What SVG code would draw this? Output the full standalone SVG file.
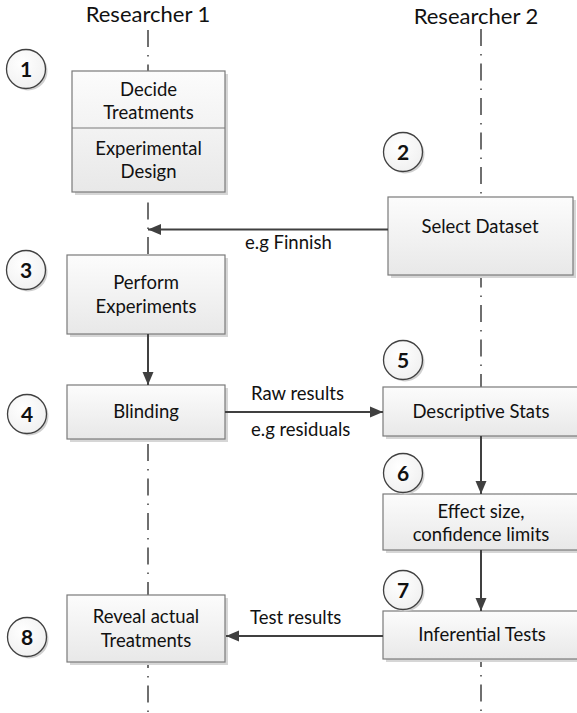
<svg xmlns="http://www.w3.org/2000/svg" width="577" height="713" viewBox="0 0 577 713">
<defs>
<linearGradient id="boxg" x1="0" y1="0" x2="0" y2="1">
<stop offset="0" stop-color="#fcfcfc"/>
<stop offset="1" stop-color="#e8e8e8"/>
</linearGradient>
<radialGradient id="cg" cx="0.4" cy="0.35" r="0.7">
<stop offset="0" stop-color="#ffffff"/>
<stop offset="1" stop-color="#f0f0f0"/>
</radialGradient>
<marker id="ah" viewBox="0 0 13 12" refX="13" refY="6" markerWidth="13" markerHeight="12" markerUnits="userSpaceOnUse" orient="auto">
<path d="M0,0.5 L13,6 L0,11.5 Z" fill="#404040"/>
</marker>
</defs>
<style>
text{font-family:Lato,"Liberation Sans",Arial,sans-serif;fill:#111;}
.hdr{font-size:22px;text-anchor:middle;}
.t{font-size:18.5px;text-anchor:middle;}
.lbl{font-size:18.5px;}
.num{font-size:21px;font-weight:bold;text-anchor:middle;}
.box{fill:url(#boxg);stroke:#7a7a7a;stroke-width:1.2;}
.sh{fill:#d6d6d6;}
.circ{fill:url(#cg);stroke:#404040;stroke-width:1.3;}
.csh{fill:#cfcfcf;}
.life{stroke:#404040;stroke-width:1.5;stroke-dasharray:17 8 1.5 8;fill:none;}
.conn{stroke:#404040;stroke-width:2;fill:none;marker-end:url(#ah);}
</style>

<g id="lifelines">
<text class="hdr" x="148" y="22">Researcher 1</text>
<text class="hdr" x="476" y="24">Researcher 2</text>
<line class="life" x1="148" y1="30" x2="148" y2="713"/>
<line class="life" x1="481" y1="29" x2="481" y2="713"/>
</g>

<g id="node-decide">
<rect class="sh" x="75" y="74" width="153" height="121"/>
<rect class="box" x="72" y="71" width="153" height="121"/>
<line x1="72" y1="128" x2="225" y2="128" stroke="#7a7a7a" stroke-width="1.2"/>
<text class="t" x="148.5" y="95.5">Decide</text>
<text class="t" x="148.5" y="119">Treatments</text>
<text class="t" x="148.5" y="155">Experimental</text>
<text class="t" x="148.5" y="178">Design</text>
</g>

<g id="node-select">
<rect class="sh" x="391" y="200" width="185" height="78"/>
<rect class="box" x="388" y="197" width="185" height="78"/>
<text class="t" x="480" y="233">Select Dataset</text>
</g>

<g id="node-perform">
<rect class="sh" x="70" y="258" width="158" height="79"/>
<rect class="box" x="67" y="255" width="158" height="79"/>
<text class="t" x="146" y="289">Perform</text>
<text class="t" x="146" y="313">Experiments</text>
</g>

<g id="node-blinding">
<rect class="sh" x="70" y="388" width="158" height="54"/>
<rect class="box" x="67" y="385" width="158" height="54"/>
<text class="t" x="146" y="418">Blinding</text>
</g>

<g id="node-descriptive">
<rect class="sh" x="386" y="390" width="200" height="49"/>
<rect class="box" x="383" y="387" width="200" height="49"/>
<text class="t" x="481" y="418">Descriptive Stats</text>
</g>

<g id="node-effect">
<rect class="sh" x="386" y="497" width="200" height="56"/>
<rect class="box" x="383" y="494" width="200" height="56"/>
<text class="t" x="481" y="518">Effect size,</text>
<text class="t" x="481" y="541">confidence limits</text>
</g>

<g id="node-inferential">
<rect class="sh" x="386" y="614" width="200" height="48"/>
<rect class="box" x="383" y="611" width="200" height="48"/>
<text class="t" x="482" y="641">Inferential Tests</text>
</g>

<g id="node-reveal">
<rect class="sh" x="70" y="598" width="158" height="67"/>
<rect class="box" x="67" y="595" width="158" height="67"/>
<text class="t" x="146" y="623">Reveal actual</text>
<text class="t" x="146" y="647">Treatments</text>
</g>

<g id="step-1"><circle class="csh" cx="28" cy="71" r="19.5"/><circle class="circ" cx="26" cy="69" r="19.5"/><text class="num" x="26" y="76.5">1</text></g>
<g id="step-2"><circle class="csh" cx="405" cy="154" r="19.5"/><circle class="circ" cx="403" cy="152" r="19.5"/><text class="num" x="403" y="159.5">2</text></g>
<g id="step-3"><circle class="csh" cx="28" cy="272" r="19.5"/><circle class="circ" cx="26" cy="270" r="19.5"/><text class="num" x="26" y="277.5">3</text></g>
<g id="step-4"><circle class="csh" cx="29" cy="416" r="19.5"/><circle class="circ" cx="27" cy="414" r="19.5"/><text class="num" x="27" y="421.5">4</text></g>
<g id="step-5"><circle class="csh" cx="405" cy="362" r="19.5"/><circle class="circ" cx="403" cy="360" r="19.5"/><text class="num" x="403" y="367.5">5</text></g>
<g id="step-6"><circle class="csh" cx="405" cy="475" r="19.5"/><circle class="circ" cx="403" cy="473" r="19.5"/><text class="num" x="403" y="480.5">6</text></g>
<g id="step-7"><circle class="csh" cx="405" cy="592" r="19.5"/><circle class="circ" cx="403" cy="590" r="19.5"/><text class="num" x="403" y="597.5">7</text></g>
<g id="step-8"><circle class="csh" cx="29" cy="639" r="19.5"/><circle class="circ" cx="27" cy="637" r="19.5"/><text class="num" x="27" y="644.5">8</text></g>

<g id="connectors">
<line class="conn" x1="388" y1="229.5" x2="148" y2="229.5"/>
<line class="conn" x1="148" y1="334" x2="148" y2="385"/>
<line class="conn" x1="225" y1="412" x2="383" y2="412"/>
<line class="conn" x1="481" y1="436" x2="481" y2="494"/>
<line class="conn" x1="481" y1="550" x2="481" y2="611"/>
<line class="conn" x1="383" y1="636" x2="226" y2="636"/>
<text class="lbl" x="245" y="249">e.g Finnish</text>
<text class="lbl" x="251" y="400">Raw results</text>
<text class="lbl" x="251" y="436">e.g residuals</text>
<text class="lbl" x="250" y="624">Test results</text>
</g>
</svg>
